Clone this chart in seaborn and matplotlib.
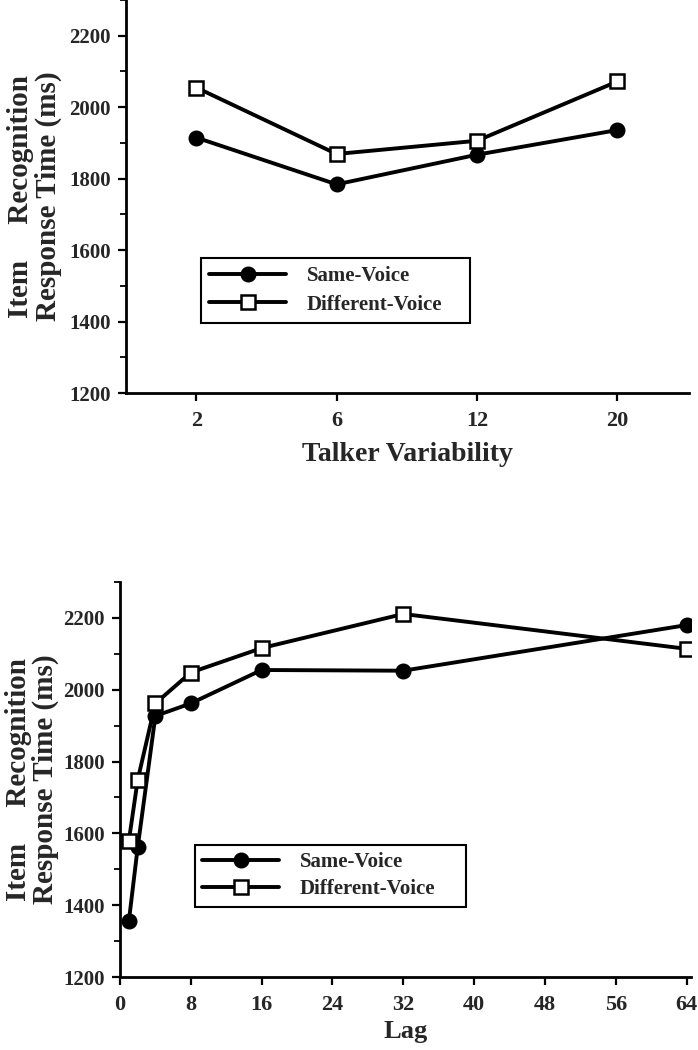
import pandas as pd
import matplotlib
matplotlib.use('Agg')
import matplotlib.pyplot as plt
import seaborn as sns
from matplotlib.ticker import MultipleLocator

# Data
talkers = ['2', '6', '12', '20']
talker_same = [1915, 1784, 1867, 1936]
talker_diff = [2055, 1869, 1906, 2072]

lags = [1, 2, 4, 8, 16, 32, 64]
lag_same = [1355, 1561, 1927, 1962, 2055, 2053, 2180]
lag_diff = [1579, 1749, 1962, 2048, 2116, 2211, 2114]

sns.set_style('ticks')
plt.rcParams['font.family'] = ['Liberation Serif', 'DejaVu Serif']
plt.rcParams['font.weight'] = 'bold'
plt.rcParams['axes.labelweight'] = 'bold'

fig = plt.figure(figsize=(6.98, 10.5), dpi=100)
ax1 = fig.add_axes([0.1805, 0.6257, 0.8066, 0.3743])
ax2 = fig.add_axes([0.1719, 0.0695, 0.818, 0.3762])

same_kw = dict(color='black', linewidth=2.8, marker='o', markersize=10.5,
               markerfacecolor='black', markeredgecolor='black', markeredgewidth=1)
diff_kw = dict(color='black', linewidth=2.8, marker='s', markersize=9.5,
               markerfacecolor='white', markeredgecolor='black', markeredgewidth=1.8)

ylab = 'Item     Recognition\nResponse Time (ms)'


def style_axes(ax):
    sns.despine(ax=ax)
    for s in ['left', 'bottom']:
        ax.spines[s].set_linewidth(2)
        ax.spines[s].set_color('black')
    ax.set_ylim(1200, 2300)
    ax.set_yticks(range(1200, 2201, 200))
    ax.yaxis.set_minor_locator(MultipleLocator(100))
    ax.tick_params(axis='y', which='major', direction='out', length=6, width=1.6,
                   pad=5, labelsize=15, color='black')
    ax.tick_params(axis='y', which='minor', direction='out', length=4, width=1.3, color='black')
    ax.tick_params(axis='x', which='major', direction='out', length=6, width=1.6,
                   pad=7, labelsize=16, color='black')
    ax.set_ylabel(ylab, fontsize=21, linespacing=1.0)


# Top panel: talker variability
sns.lineplot(x=talkers, y=talker_same, sort=False, label='Same-Voice', ax=ax1, **same_kw)
sns.lineplot(x=talkers, y=talker_diff, sort=False, label='Different-Voice', ax=ax1, **diff_kw)
style_axes(ax1)
ax1.set_xlim(-0.5, 3.51)
ax1.set_xlabel('Talker Variability', fontsize=20)
ax1.yaxis.set_label_coords(-0.114, 0.5)
ax1.xaxis.set_label_coords(0.5, -0.125)
ax1.legend(loc='upper left', bbox_to_anchor=(0.133, 0.18, 0.478, 0.1635), mode='expand',
           borderaxespad=0, fancybox=False, framealpha=1, edgecolor='black',
           prop={'size': 15, 'weight': 'bold'}, handlelength=3.7, handletextpad=1.0,
           borderpad=0.4, labelspacing=0.4).get_frame().set_linewidth(1.5)

# Bottom panel: lag
sns.lineplot(x=lags, y=lag_same, sort=False, label='Same-Voice', ax=ax2, **same_kw)
sns.lineplot(x=lags, y=lag_diff, sort=False, label='Different-Voice', ax=ax2, **diff_kw)
style_axes(ax2)
ax2.set_xlim(0, 64.5)
ax2.set_xticks(range(0, 65, 8))
ax2.set_xlabel('Lag', fontsize=19)
ax2.yaxis.set_label_coords(-0.106, 0.5)
ax2.xaxis.set_label_coords(0.5, -0.11)
ax2.legend(loc='upper left', bbox_to_anchor=(0.131, 0.18, 0.475, 0.1545), mode='expand',
           borderaxespad=0, fancybox=False, framealpha=1, edgecolor='black',
           prop={'size': 15, 'weight': 'bold'}, handlelength=3.7, handletextpad=1.0,
           borderpad=0.35, labelspacing=0.35).get_frame().set_linewidth(1.5)

fig.savefig('out.png', dpi=100)
